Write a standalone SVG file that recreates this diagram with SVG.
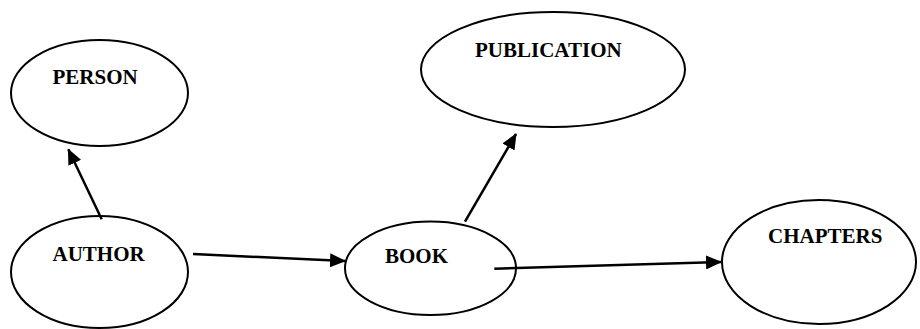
<svg xmlns="http://www.w3.org/2000/svg" width="920" height="329" viewBox="0 0 920 329">
<style>
.node ellipse{fill:#fff;stroke:#000;stroke-width:2}
.node text{font-family:"Liberation Serif","Times New Roman",serif;font-weight:bold;font-size:21px;fill:#000}
.edge{stroke:#000;stroke-width:2.5;fill:none;marker-end:url(#arr)}
</style>
<defs>
<marker id="arr" markerUnits="userSpaceOnUse" markerWidth="16" markerHeight="14" refX="15" refY="7" orient="auto">
<path d="M0,0 L16,7 L0,14 Z" fill="#000"/>
</marker>
</defs>
<rect width="920" height="329" fill="#fff"/>
<g id="person" class="node">
<ellipse cx="99.5" cy="93" rx="88.5" ry="53"/>
<text x="52.5" y="83.5">PERSON</text>
</g>
<g id="publication" class="node">
<ellipse cx="553" cy="69.5" rx="132" ry="57.5"/>
<text x="475" y="57">PUBLICATION</text>
</g>
<g id="author" class="node">
<ellipse cx="99.5" cy="272" rx="88.5" ry="56"/>
<text x="52.5" y="261">AUTHOR</text>
</g>
<g id="book" class="node">
<ellipse cx="430.5" cy="268.3" rx="85.5" ry="46.7"/>
<text x="385" y="262.7">BOOK</text>
</g>
<g id="chapters" class="node">
<ellipse cx="819" cy="262" rx="97" ry="62"/>
<text x="768" y="243">CHAPTERS</text>
</g>
<g id="connectors">
<line class="edge" x1="101.7" y1="219.3" x2="68.3" y2="149.3"/>
<line class="edge" x1="193" y1="254" x2="345" y2="261"/>
<line class="edge" x1="465" y1="221.7" x2="516" y2="134"/>
<line class="edge" x1="494.3" y1="268.7" x2="721" y2="262"/>
</g>
</svg>
